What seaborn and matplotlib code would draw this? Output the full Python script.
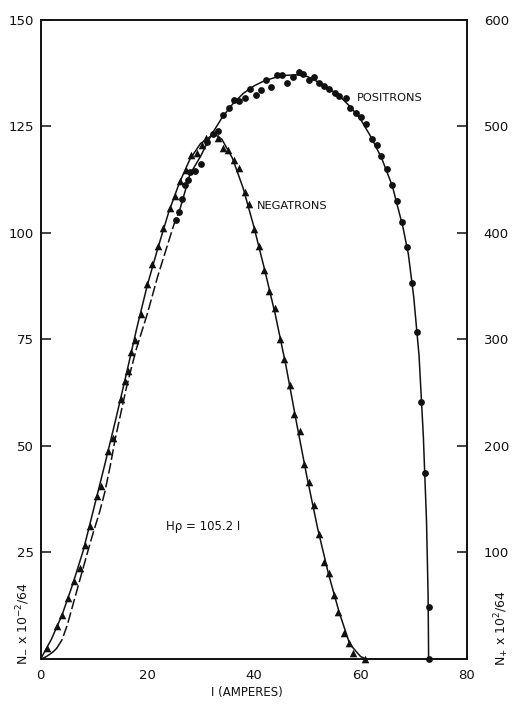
import matplotlib
matplotlib.use("Agg")
import matplotlib.pyplot as plt
import pandas as pd
import seaborn as sns

# Negatrons: magnet current I (A) and counts N- x 10^-2 / 64 (left scale)
neg_current = [1.2, 3.0, 4.0, 5.2, 6.2, 7.3, 8.3, 9.2, 10.5, 11.3, 12.7, 13.6, 15.0, 15.8,
               16.4, 16.9, 17.7, 18.9, 20.0, 20.9, 22.1, 23.0, 24.2, 25.2, 26.1, 27.2, 28.2,
               29.3, 30.2, 31.1, 33.2, 34.3, 35.1, 36.3, 37.3, 38.3, 39.1, 40.1, 40.9, 41.9,
               42.9, 43.9, 44.9, 45.7, 46.7, 47.5, 48.6, 49.4, 50.3, 51.3, 52.2, 53.2, 54.1,
               55.1, 55.8, 56.9, 57.8, 58.7, 60.9]
neg_counts = [2.5, 7.8, 10.3, 14.4, 18.3, 21.4, 26.7, 31.1, 38.2, 40.7, 48.9, 51.8, 61.1, 65.2,
              67.7, 72.0, 74.9, 81.0, 88.0, 92.7, 97.0, 101.2, 105.8, 108.7, 112.2, 114.9, 118.4,
              118.8, 120.6, 122.3, 122.3, 120.0, 119.4, 117.1, 115.3, 109.7, 106.9, 100.9, 97.0, 91.3,
              86.4, 82.5, 75.1, 70.4, 64.2, 57.5, 53.5, 45.8, 41.5, 36.1, 29.4, 22.8, 20.1,
              15.0, 11.1, 6.0, 3.7, 1.3, 0.0]

# Smooth curve drawn through the negatron points
neg_curve_current = [0, 2, 4, 6, 8, 10, 12, 14, 16, 18, 20, 22, 24, 26, 28, 30, 32, 33, 34,
                     36, 38, 40, 42, 44, 46, 48, 50, 52, 54, 56, 58, 60, 61]
neg_curve_counts = [0, 4.6, 10.3, 17.5, 25.5, 35.5, 45.5, 55.8, 66.5, 77.5, 87.7, 96.5, 104.8,
                    111.7, 117.3, 121.0, 122.8, 122.9, 122.0, 117.5, 110.5, 101.5, 91.5, 81.0,
                    69.0, 55.5, 42.5, 30.5, 20.0, 11.0, 3.5, 0.6, 0.0]

# Positrons: magnet current I (A) and counts N+ x 10^2 / 64 (right scale)
pos_current = [25.4, 26.0, 26.5, 27.1, 27.6, 28.0, 29.0, 30.1, 31.3, 32.3, 33.3, 34.3, 35.3,
               36.3, 37.2, 38.3, 39.3, 40.4, 41.3, 42.3, 43.3, 44.3, 45.3, 46.3, 47.3, 48.4,
               49.2, 50.3, 51.3, 52.2, 53.1, 54.1, 55.2, 56.0, 57.2, 58.1, 59.2, 60.2, 61.1,
               62.2, 63.1, 63.9, 64.9, 65.9, 66.8, 67.8, 68.7, 69.6, 70.6, 71.4, 72.1, 72.8, 72.8]
pos_counts = [412, 420, 432, 445, 450, 457, 458, 465, 485, 493, 496, 511, 517,
              525, 524, 527, 535, 530, 534, 544, 537, 548, 548, 541, 546, 551,
              549, 544, 546, 541, 538, 535, 531, 529, 527, 517, 513, 509, 502,
              488, 483, 472, 460, 445, 430, 410, 387, 353, 307, 241, 175, 49, 0]

# Fitted positron curve (solid part) and its extrapolation to low current (dashed part)
pos_curve_current = [26, 28, 30, 32, 34, 36, 38, 40, 42, 44, 46, 48, 50, 52, 54, 56, 58, 60,
                     62, 64, 66, 68, 69, 70, 71, 71.8, 72.4, 72.7, 72.8]
pos_curve_counts = [420, 455, 472, 492, 508, 521, 531, 538, 543, 546, 548, 548.5, 547, 542,
                    536, 529, 519, 507, 490, 470, 444, 405, 380, 340, 285, 210, 130, 60, 0]
pos_dash_current = [3, 4, 5, 6, 7, 8, 9, 10, 11, 12, 13, 14, 15, 16, 17, 18, 19, 20, 21, 22,
                    23, 24, 25, 26]
pos_dash_counts = [10, 18, 32, 50, 68, 86, 104, 121, 137, 156, 180, 207, 230, 253, 273, 292,
                   308, 324, 342, 360, 376, 392, 408, 420]
pos_foot_current = [0, 0.8, 1.6, 2.4, 3]
pos_foot_counts = [0, 1.5, 4, 7, 10]

neg_pts = pd.DataFrame({"I": neg_current, "N": neg_counts})
neg_fit = pd.DataFrame({"I": neg_curve_current, "N": neg_curve_counts})
pos_pts = pd.DataFrame({"I": pos_current, "N": pos_counts})
pos_fit = pd.DataFrame({"I": pos_curve_current, "N": pos_curve_counts})
pos_dash = pd.DataFrame({"I": pos_dash_current, "N": pos_dash_counts})
pos_foot = pd.DataFrame({"I": pos_foot_current, "N": pos_foot_counts})

sns.set_theme(style="white")
plt.rcParams["font.family"] = ["DejaVu Sans"]

ink = "#111111"
fig = plt.figure(figsize=(5.12, 7.04), dpi=100)
ax = fig.add_axes([0.0795, 0.064, 0.8326, 0.9076])
ax2 = ax.twinx()

# negatrons on the left scale
sns.lineplot(data=neg_fit, x="I", y="N", ax=ax, color=ink, lw=1.1, sort=False)
sns.scatterplot(data=neg_pts, x="I", y="N", ax=ax, marker="^", s=30, color=ink,
                edgecolor=ink, linewidth=0, clip_on=False, zorder=5)

# positrons on the right scale
sns.lineplot(data=pos_fit, x="I", y="N", ax=ax2, color=ink, lw=1.1, sort=False)
sns.lineplot(data=pos_dash, x="I", y="N", ax=ax2, color=ink, lw=1.1, sort=False,
             dashes=False).lines[-1].set_dashes([7, 2.2])
sns.lineplot(data=pos_foot, x="I", y="N", ax=ax2, color=ink, lw=1.1, sort=False)
sns.scatterplot(data=pos_pts, x="I", y="N", ax=ax2, marker="o", s=24, color=ink,
                edgecolor=ink, linewidth=0, clip_on=False, zorder=5)

ax.set_xlim(0, 80)
ax.set_ylim(0, 150)
ax2.set_ylim(0, 600)

ax.set_xticks([0, 20, 40, 60, 80])
ax.set_yticks([25, 50, 75, 100, 125, 150])
ax2.set_yticks([100, 200, 300, 400, 500, 600])
for a in (ax, ax2):
    a.set_xlabel("")
    a.set_ylabel("")
    for s in a.spines.values():
        s.set_color(ink)
        s.set_linewidth(1.2)
ax.tick_params(axis="both", direction="in", length=7, width=1.1, colors=ink,
               labelsize=9.5, pad=5)
ax.tick_params(axis="x", length=6, pad=7)
ax2.tick_params(axis="y", direction="in", length=7, width=1.1, colors=ink,
                labelsize=9.5, pad=12)

ax.text(59.3, 131.8, "POSITRONS", fontsize=8.2, color=ink, va="center", ha="left")
ax.text(40.6, 106.3, "NEGATRONS", fontsize=8.2, color=ink, va="center", ha="left")
ax.text(23.6, 31.0, "H\u03c1 = 105.2 I", fontsize=8.5, color=ink, va="center", ha="left")

fig.text(0.482, 0.017, "I (AMPERES)", fontsize=8.5, color=ink, ha="center", va="center")
fig.text(0.045, 0.115, r"N$_{-}$ x 10$^{-2}$/64", fontsize=9, color=ink,
         rotation=90, ha="center", va="center")
fig.text(0.980, 0.108, r"N$_{+}$ x 10$^{2}$/64", fontsize=9, color=ink,
         rotation=90, ha="center", va="center")

fig.savefig("out.png", dpi=100)
